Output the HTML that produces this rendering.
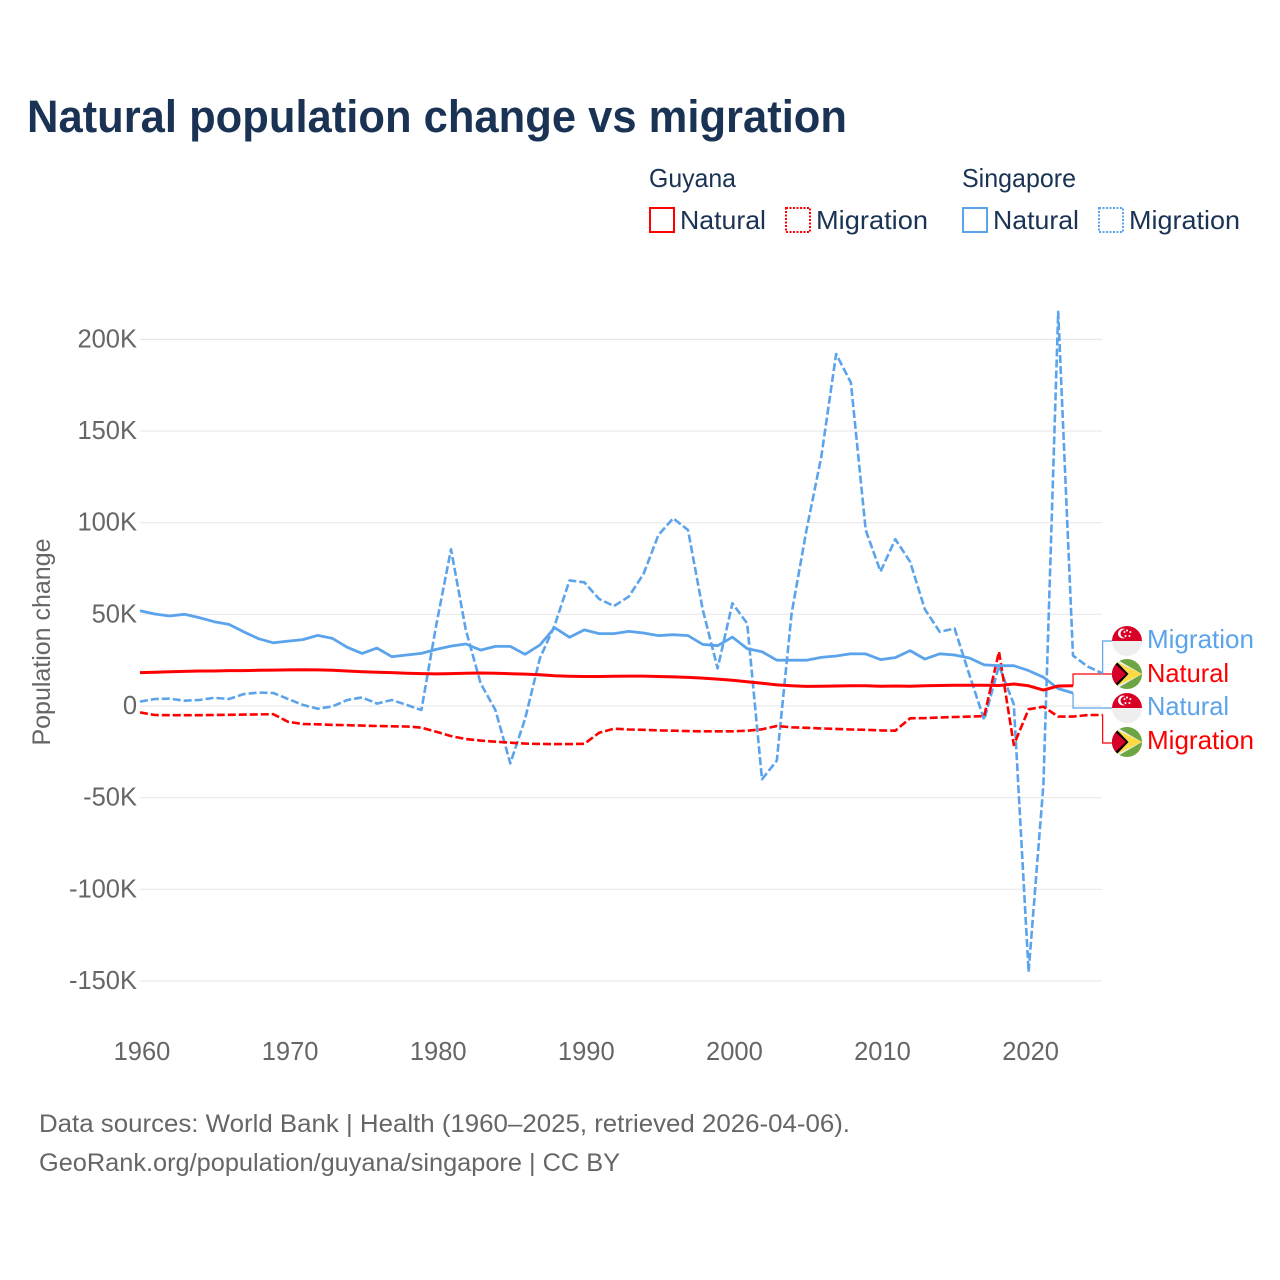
<!DOCTYPE html>
<html lang="en">
<head>
<meta charset="utf-8">
<title>Natural population change vs migration</title>
<style>
html,body{margin:0;padding:0;background:#fff;}
svg{display:block;}
text{font-family:"Liberation Sans",sans-serif;}
</style>
</head>
<body>
<svg id="chart" width="1280" height="1280" viewBox="0 0 1280 1280" xmlns="http://www.w3.org/2000/svg">
  <rect x="0" y="0" width="1280" height="1280" fill="#ffffff"/>
  <text x="27" y="132" font-size="45" font-weight="700" fill="#1a3354" textLength="820" lengthAdjust="spacingAndGlyphs">Natural population change vs migration</text>

  <g font-size="26" fill="#1a3354">
    <text x="649" y="187" textLength="87" lengthAdjust="spacingAndGlyphs">Guyana</text>
    <text x="962" y="187" textLength="114" lengthAdjust="spacingAndGlyphs">Singapore</text>
    <rect x="650" y="208" width="24" height="24" fill="none" stroke="#ff0000" stroke-width="2"/>
    <text x="680" y="229" textLength="86" lengthAdjust="spacingAndGlyphs">Natural</text>
    <rect x="786" y="208" width="24" height="24" fill="none" stroke="#ff0000" stroke-width="2" stroke-dasharray="2 1.5"/>
    <text x="816" y="229" textLength="112" lengthAdjust="spacingAndGlyphs">Migration</text>
    <rect x="963" y="208" width="24" height="24" fill="none" stroke="#5ba4ec" stroke-width="2"/>
    <text x="993" y="229" textLength="86" lengthAdjust="spacingAndGlyphs">Natural</text>
    <rect x="1099" y="208" width="24" height="24" fill="none" stroke="#5ba4ec" stroke-width="2" stroke-dasharray="2 1.5"/>
    <text x="1129" y="229" textLength="111" lengthAdjust="spacingAndGlyphs">Migration</text>
  </g>

  <g id="grid"></g>
  <g id="yticks" font-size="25.5" fill="#666666" text-anchor="end"></g>
  <g id="xticks" font-size="25.5" fill="#666666" text-anchor="middle"></g>
  <text transform="translate(50,642) rotate(-90)" font-size="25" fill="#666666" text-anchor="middle" textLength="207" lengthAdjust="spacingAndGlyphs">Population change</text>
  <g id="leaders"></g>
  <g id="series"></g>

  <defs>
    <clipPath id="flag-clip"><circle cx="0" cy="0" r="15"/></clipPath>
    <g id="flag-singapore">
      <g clip-path="url(#flag-clip)">
        <rect x="-15" y="-15" width="30" height="15" fill="#d80027"/>
        <rect x="-15" y="0" width="30" height="15" fill="#eeeeee"/>
        <circle cx="-4" cy="-7.5" r="5" fill="#ffffff"/>
        <circle cx="-2" cy="-7.5" r="4.4" fill="#d80027"/>
        <circle cx="0" cy="-10.5" r="1" fill="#ffffff"/>
        <circle cx="3.4" cy="-9" r="1" fill="#ffffff"/>
        <circle cx="2.4" cy="-5" r="1" fill="#ffffff"/>
        <circle cx="-1.5" cy="-5" r="1" fill="#ffffff"/>
        <circle cx="-2.5" cy="-9" r="1" fill="#ffffff"/>
      </g>
    </g>
    <g id="flag-guyana">
      <g clip-path="url(#flag-clip)">
        <rect x="-15" y="-15" width="30" height="30" fill="#6da544"/>
        <polygon points="-15,-15 -11,-15 15,0 -11,15 -15,15" fill="#f0f0f0"/>
        <polygon points="-12,-13 15,0 -12,13" fill="#ffda44"/>
        <polygon points="-15,-15 -13,-15 1.5,0 -13,15 -15,15" fill="#000000"/>
        <polygon points="-15,-13 -1,0 -15,13" fill="#d80027"/>
      </g>
    </g>
  </defs>

  <g font-size="26">
    <use href="#flag-singapore" x="1127" y="641"/>
    <text x="1147" y="648" fill="#5ba4ec" textLength="107" lengthAdjust="spacingAndGlyphs">Migration</text>
    <use href="#flag-guyana" x="1127" y="674"/>
    <text x="1147" y="682" fill="#ff0000" textLength="82" lengthAdjust="spacingAndGlyphs">Natural</text>
    <use href="#flag-singapore" x="1127" y="708"/>
    <text x="1147" y="715" fill="#5ba4ec" textLength="82" lengthAdjust="spacingAndGlyphs">Natural</text>
    <use href="#flag-guyana" x="1127" y="742"/>
    <text x="1147" y="749" fill="#ff0000" textLength="107" lengthAdjust="spacingAndGlyphs">Migration</text>
  </g>

  <g font-size="25" fill="#666666">
    <text x="39" y="1132" textLength="811" lengthAdjust="spacingAndGlyphs">Data sources: World Bank | Health (1960–2025, retrieved 2026-04-06).</text>
    <text x="39" y="1171" textLength="581" lengthAdjust="spacingAndGlyphs">GeoRank.org/population/guyana/singapore | CC BY</text>
  </g>
</svg>
<script>
const startYear = 1960;
const yTickValues = [200, 150, 100, 50, 0, -50, -100, -150];
const xTickValues = [1960, 1970, 1980, 1990, 2000, 2010, 2020];

const singaporeNatural = [52, 50.2, 49.1, 50, 48.2, 46, 44.5, 40.5, 36.7, 34.5, 35.4, 36.2, 38.5, 36.9, 32, 28.7, 31.6, 26.9, 27.8, 28.7, 30.9, 32.7, 33.8, 30.5, 32.5, 32.5, 28.2, 33.3, 42.7, 37.5, 41.5, 39.5, 39.5, 40.7, 39.8, 38.4, 38.9, 38.4, 33.6, 32.9, 37.6, 31.3, 29.6, 25, 25, 25, 26.5, 27.3, 28.5, 28.4, 25.3, 26.4, 30.2, 25.6, 28.5, 27.8, 26.2, 22.4, 22, 22, 19.3, 15.7, 9.5, 7.1];
const singaporeMigration = [2.4, 3.8, 4, 2.9, 3.3, 4.5, 3.8, 6.5, 7.3, 7.1, 3.8, 0.6, -1.5, -0.2, 3.3, 4.7, 1.3, 3.3, 0.6, -2.2, 44, 85.5, 41.5, 12.4, -2.2, -31.3, -7, 26, 44, 68.5, 67.5, 58.4, 54.5, 59.6, 72, 93.3, 102.4, 96, 52.4, 20.5, 56, 45, -40, -29.8, 50.5, 96, 136, 192, 176.4, 96, 73.3, 91, 78.7, 52.7, 40.5, 42.3, 17, -7.6, 22, 1, -145, -43, 215, 27.5, 21.5, 17.8];
const guyanaNatural = [18.2, 18.4, 18.7, 18.9, 19.1, 19.1, 19.3, 19.3, 19.5, 19.6, 19.7, 19.8, 19.7, 19.5, 19.1, 18.7, 18.4, 18.2, 17.9, 17.7, 17.5, 17.7, 17.9, 18, 17.9, 17.6, 17.4, 17, 16.5, 16.2, 16.1, 16.1, 16.2, 16.3, 16.3, 16.1, 15.9, 15.6, 15.2, 14.7, 14, 13.2, 12.4, 11.5, 11, 10.7, 10.8, 10.9, 11, 11, 10.8, 10.9, 10.8, 11, 11.2, 11.3, 11.3, 11.3, 11.2, 12, 11, 8.7, 10.9, 11];
const guyanaMigration = [-3.5, -4.9, -5, -5, -5, -4.9, -4.8, -4.7, -4.6, -4.5, -8.6, -9.8, -10, -10.3, -10.5, -10.7, -10.9, -11.1, -11.2, -11.8, -14, -16.4, -18, -18.9, -19.5, -20, -20.5, -20.7, -20.8, -20.8, -20.6, -14.6, -12.4, -12.8, -13, -13.3, -13.5, -13.7, -13.8, -13.8, -13.8, -13.5, -12.7, -10.9, -11.6, -11.9, -12.2, -12.5, -12.8, -13, -13.3, -13.5, -6.7, -6.6, -6.3, -6, -5.8, -5.5, 29.6, -21.3, -1.8, -0.4, -5.8, -5.8, -4.9, -4.9];

const SVG_NS = 'http://www.w3.org/2000/svg';
const RED = '#ff0000';
const BLUE = '#5ba4ec';
const PLOT_LEFT = 140;
const PLOT_RIGHT = 1102;

function xScale(year) {
  return PLOT_LEFT + (year - startYear) * 14.81;
}
function yScale(value) {
  return 706 - value * 1.8333;
}
function formatTick(value) {
  return value === 0 ? '0' : value + 'K';
}
function pointsFor(values) {
  return values.map(function (v, i) {
    return xScale(startYear + i).toFixed(1) + ',' + yScale(v).toFixed(1);
  }).join(' ');
}

const gridGroup = document.getElementById('grid');
const yTickGroup = document.getElementById('yticks');
const xTickGroup = document.getElementById('xticks');
const seriesGroup = document.getElementById('series');
const leaderGroup = document.getElementById('leaders');

yTickValues.forEach(function (v) {
  const line = document.createElementNS(SVG_NS, 'line');
  
  
  line.setAttribute('x1', PLOT_LEFT);
  line.setAttribute('x2', PLOT_RIGHT);
  line.setAttribute('y1', yScale(v));
  line.setAttribute('y2', yScale(v));
  line.setAttribute('stroke', '#e9e9e9');
  line.setAttribute('stroke-width', '1.2');
  gridGroup.appendChild(line);

  const label = document.createElementNS(SVG_NS, 'text');
  
  
  label.setAttribute('x', 137);
  label.setAttribute('y', yScale(v) + 8);
  label.textContent = formatTick(v);
  yTickGroup.appendChild(label);
});

xTickValues.forEach(function (year) {
  const label = document.createElementNS(SVG_NS, 'text');
  
  
  label.setAttribute('x', xScale(year) + 2);
  label.setAttribute('y', 1060);
  label.textContent = String(year);
  xTickGroup.appendChild(label);
});

function drawLine(values, color, dashed, width) {
  const line = document.createElementNS(SVG_NS, 'polyline');
  
  
  line.setAttribute('points', pointsFor(values));
  line.setAttribute('fill', 'none');
  line.setAttribute('stroke', color);
  line.setAttribute('stroke-width', width);
  line.setAttribute('stroke-linejoin', 'round');
  if (dashed) {
    line.setAttribute('stroke-dasharray', '8 3');
  }
  seriesGroup.appendChild(line);
}

function drawLeader(values, labelY, color) {
  const lastIndex = values.length - 1;
  const endX = xScale(startYear + lastIndex);
  const endY = yScale(values[lastIndex]);
  const leader = document.createElementNS(SVG_NS, 'polyline');
  
  
  leader.setAttribute('points', endX + ',' + endY + ' ' + endX + ',' + labelY + ' 1112,' + labelY);
  leader.setAttribute('fill', 'none');
  leader.setAttribute('stroke', color);
  leader.setAttribute('stroke-width', '1.2');
  leaderGroup.appendChild(leader);
}

drawLeader(singaporeMigration, 641, BLUE);
drawLeader(guyanaNatural, 674, RED);
drawLeader(singaporeNatural, 708, BLUE);
drawLeader(guyanaMigration, 743, RED);

drawLine(singaporeMigration, BLUE, true, 2.6);
drawLine(guyanaMigration, RED, true, 2.6);
drawLine(singaporeNatural, BLUE, false, 2.8);
drawLine(guyanaNatural, RED, false, 3);
</script>
</body>
</html>
